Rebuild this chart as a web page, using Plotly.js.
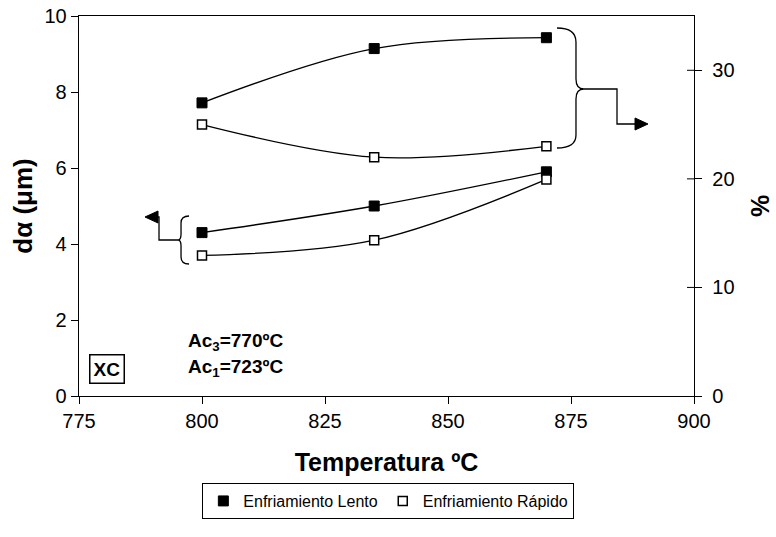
<!DOCTYPE html>
<html>
<head>
<meta charset="utf-8">
<script src="https://cdn.plot.ly/plotly-3.0.1.min.js"></script>
<style>html,body{margin:0;padding:0;background:#fff;}#chart{width:776px;height:537px;}</style>
</head>
<body>
<div id="chart"></div>
<script>
// ---- data ----
const temperatures = [800, 835, 870];
const lentoPct = [27, 32, 33];
const rapidoPct = [25, 22, 23];
const lentoDa = [4.3, 5.0, 5.9];
const rapidoDa = [3.7, 4.1, 5.7];
const xTicks = [775, 800, 825, 850, 875, 900];
const yTicks = [0, 2, 4, 6, 8, 10];
const y2Ticks = [0, 10, 20, 30];
const seriesNames = ['Enfriamiento Lento', 'Enfriamiento Rápido'];

const FONT = 'Liberation Sans, Arial, sans-serif';
const L = 79, R = 694, T = 16, B = 396;
function px(x) { return (x - L) / (R - L); }
function py(y) { return (B - y) / (B - T); }
function path(cmds) {
  return cmds.map(c => {
    if (c[0] === 'Z') return 'Z';
    let s = c[0] + ' ' + px(c[1]).toFixed(4) + ',' + py(c[2]).toFixed(4);
    if (c.length > 3) s += ' ' + px(c[3]).toFixed(4) + ',' + py(c[4]).toFixed(4);
    return s;
  }).join(' ');
}

const lineStyle = {color: '#000', width: 1.3, shape: 'spline'};
const filled = {symbol: 'square', size: 10, color: '#000', line: {color: '#000', width: 1}};
const open = {symbol: 'square', size: 9, color: '#fff', line: {color: '#000', width: 1.5}};

const traces = [
  {x: temperatures, y: lentoPct, yaxis: 'y2', mode: 'lines+markers', line: lineStyle, marker: filled, showlegend: false},
  {x: temperatures, y: rapidoPct, yaxis: 'y2', mode: 'lines+markers', line: lineStyle, marker: open, showlegend: false},
  {x: temperatures, y: lentoDa, mode: 'lines+markers', line: lineStyle, marker: filled, showlegend: false},
  {x: temperatures, y: rapidoDa, mode: 'lines+markers', line: lineStyle, marker: open, showlegend: false},
  {x: [null], y: [null], mode: 'markers', marker: filled, name: seriesNames[0], showlegend: true},
  {x: [null], y: [null], mode: 'markers', marker: open, name: seriesNames[1], showlegend: true}
];

const shapes = [];
const lw = {color: '#000', width: 1.3};
// right brace
shapes.push({type: 'path', xref: 'paper', yref: 'paper', line: lw, path: path([
  ['M', 557, 28], ['Q', 576, 28, 576, 42], ['L', 576, 79], ['Q', 576, 89, 584, 89],
  ['Q', 576, 89, 576, 99], ['L', 576, 135], ['Q', 576, 148, 557, 148]])});
shapes.push({type: 'path', xref: 'paper', yref: 'paper', line: lw, path: path([
  ['M', 584, 89], ['L', 617, 89], ['L', 617, 124], ['L', 636, 124]])});
shapes.push({type: 'path', xref: 'paper', yref: 'paper', line: {color: '#000', width: 1}, fillcolor: '#000', path: path([
  ['M', 635, 118], ['L', 648, 124], ['L', 635, 130], ['Z']])});
// left brace
shapes.push({type: 'path', xref: 'paper', yref: 'paper', line: lw, path: path([
  ['M', 189, 216], ['Q', 181, 216, 181, 223], ['L', 181, 234], ['Q', 181, 240, 178, 240],
  ['Q', 181, 240, 181, 246], ['L', 181, 257], ['Q', 181, 264, 189, 264]])});
shapes.push({type: 'path', xref: 'paper', yref: 'paper', line: lw, path: path([
  ['M', 178, 240], ['L', 159, 240], ['L', 159, 217], ['L', 157, 217]])});
shapes.push({type: 'path', xref: 'paper', yref: 'paper', line: {color: '#000', width: 1}, fillcolor: '#000', path: path([
  ['M', 158, 211], ['L', 145, 217], ['L', 158, 223], ['Z']])});
// inner part of right-axis cross ticks
y2Ticks.slice(1).forEach(v => {
  shapes.push({type: 'line', xref: 'paper', yref: 'y2', x0: 1 - 7 / (R - L), x1: 1, y0: v, y1: v, line: {color: '#000', width: 1}});
});

const layout = {
  width: 776, height: 537,
  margin: {l: L, r: 776 - R, t: T, b: 537 - B},
  paper_bgcolor: '#fff', plot_bgcolor: '#fff',
  font: {family: FONT, color: '#000', size: 20},
  xaxis: {
    range: [775, 900], tickvals: xTicks, ticktext: xTicks.map(String),
    showgrid: false, zeroline: false, showline: true, mirror: true, linecolor: '#000', linewidth: 1.3,
    ticks: 'outside', ticklen: 7, tickwidth: 1, tickcolor: '#000',
    tickfont: {family: FONT, size: 20},
    title: {text: 'Temperatura ºC', font: {family: FONT, size: 25, weight: 'bold'}, standoff: 22}
  },
  yaxis: {
    range: [0, 10], tickvals: yTicks, ticktext: yTicks.map(String),
    showgrid: false, zeroline: false, showline: true, linecolor: '#000', linewidth: 1.3,
    ticks: 'outside', ticklen: 7, tickwidth: 1, tickcolor: '#000',
    tickfont: {family: FONT, size: 20},
    title: {text: 'dα (μm)', font: {family: FONT, size: 26, weight: 'bold'}, standoff: 4}
  },
  yaxis2: {
    overlaying: 'y', side: 'right', range: [0, 35], tickvals: y2Ticks, ticktext: y2Ticks.map(String),
    showgrid: false, zeroline: false, showline: true, linecolor: '#000', linewidth: 1.3,
    ticks: 'outside', ticklen: 7, tickwidth: 1, tickcolor: '#000',
    tickfont: {family: FONT, size: 20}, ticklabelstandoff: 6,
    title: {text: '%', font: {family: FONT, size: 25, weight: 'bold'}, standoff: 18}
  },
  legend: {
    orientation: 'h', x: 0.503, xanchor: 'center', y: -0.229, yanchor: 'top',
    bordercolor: '#000', borderwidth: 1, bgcolor: '#fff',
    font: {family: FONT, size: 16}, itemwidth: 30
  },
  shapes: shapes,
  annotations: [
    {xref: 'paper', yref: 'paper', x: px(107), y: py(369), xanchor: 'center', yanchor: 'middle',
     text: '<b>XC</b>', showarrow: false,
     font: {family: FONT, size: 19}, bordercolor: '#000', borderwidth: 1.5, borderpad: 3, bgcolor: '#fff'},
    {xref: 'paper', yref: 'paper', x: px(186), xanchor: 'left', y: py(342), yanchor: 'middle',
     text: '<b>Ac<sub>3</sub>=770ºC</b>', showarrow: false, font: {family: FONT, size: 19}},
    {xref: 'paper', yref: 'paper', x: px(186), xanchor: 'left', y: py(368), yanchor: 'middle',
     text: '<b>Ac<sub>1</sub>=723ºC</b>', showarrow: false, font: {family: FONT, size: 19}}
  ]
};

Plotly.newPlot('chart', traces, layout, {staticPlot: true, displayModeBar: false});
</script>
</body>
</html>
